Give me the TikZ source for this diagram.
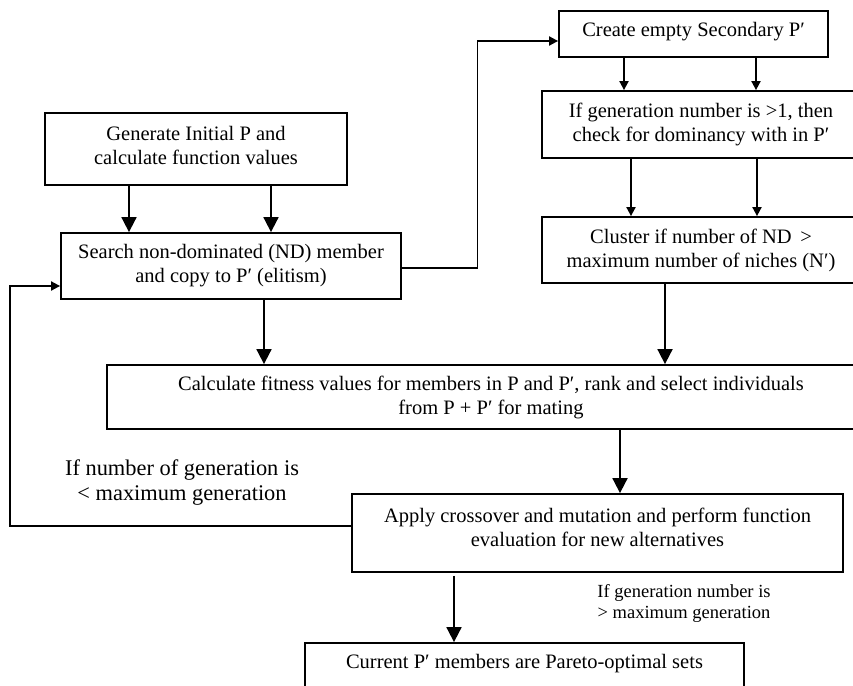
\documentclass[tikz,border=0pt]{standalone}
\usepackage{fontspec}
\setmainfont{Liberation Serif}
\usetikzlibrary{arrows.meta}
\tikzset{
  box/.style={draw, line width=1.8pt, inner sep=0pt, align=center},
  txt/.style={align=center, inner sep=0pt, font=\fontsize{20.5}{24}\selectfont},
  big/.style={-{Triangle[length=15pt,width=15pt]}, line width=1.8pt},
  small/.style={-{Triangle[length=9pt,width=9pt]}, line width=1.8pt},
}
\begin{document}
\begin{tikzpicture}[x=1pt,y=-1pt]
\useasboundingbox (0,0) rectangle (853,685);
% boxes
\node[box, minimum width=302pt, minimum height=72pt] (gen) at (196,149) {};
\node[txt] at ([yshift=4pt]gen.center) {Generate Initial P and\\calculate function values};
\node[box, minimum width=340pt, minimum height=66pt] (search) at (231,266) {};
\node[txt] at (search.center) {Search non-dominated (ND) member\\and copy to P′ (elitism)};
\node[box, minimum width=269pt, minimum height=46pt] (create) at (693.5,34) {};
\node[txt] at ([yshift=2pt]create.center) {Create empty Secondary P′};
\node[box, minimum width=318pt, minimum height=67pt] (ifgen) at (701,124.5) {};
\node[txt] at (ifgen.center) {If generation number is >1, then\\check for dominancy with in P′};
\node[box, minimum width=318pt, minimum height=66pt] (cluster) at (701,250) {};
\node[txt] at (cluster.center) {Cluster if number of ND \,>\\maximum number of niches (N′)};
\node[box, minimum width=768pt, minimum height=64pt] (calc) at (491,397) {};
\node[txt] at (calc.center) {Calculate fitness values for members in P and P′, rank and select individuals\\from P + P′ for mating};
\node[box, minimum width=491pt, minimum height=78pt] (apply) at (597.5,533) {};
\node[txt] at ([yshift=5.5pt]apply.center) {Apply crossover and mutation and perform function\\evaluation for new alternatives};
\node[box, minimum width=439pt, minimum height=44pt] (current) at (524.5,665) {};
\node[txt] at ([yshift=1pt]current.center) {Current P′ members are Pareto-optimal sets};
% labels
\node[align=center, inner sep=0pt, font=\fontsize{22.4}{25}\selectfont] (lab1) at (182,483) {If number of generation is\\< maximum generation};
\node[align=center, inner sep=0pt, font=\fontsize{18.5}{21}\selectfont] (lab2) at (684,603) {If generation number is\\> maximum generation};
% connectors
\draw[big] ([xshift=-67pt]gen.south) -- ([xshift=-67pt]gen.south |- search.north);
\draw[big] ([xshift=75pt]gen.south) -- ([xshift=75pt]gen.south |- search.north);
\draw[small] ([yshift=-2pt]search.east) -- ++(75.5,0) |- ([yshift=-7pt]create.west);
\draw[small] ([xshift=-69.5pt]create.south) -- ([xshift=-69.5pt]create.south |- ifgen.north);
\draw[small] ([xshift=62.5pt]create.south) -- ([xshift=62.5pt]create.south |- ifgen.north);
\draw[small] ([xshift=-70pt]ifgen.south) -- ([xshift=-70pt]ifgen.south |- cluster.north);
\draw[small] ([xshift=56pt]ifgen.south) -- ([xshift=56pt]ifgen.south |- cluster.north);
\draw[big] ([xshift=-36pt]cluster.south) -- ([xshift=-36pt]cluster.south |- calc.north);
\draw[big] ([xshift=33pt]search.south) -- ([xshift=33pt]search.south |- calc.north);
\draw[big] ([xshift=129pt]calc.south) -- ([xshift=129pt]calc.south |- apply.north);
\draw[small] ([yshift=7pt]apply.west) -- ++(-341,0) |- ([yshift=-20pt]search.west);
\draw[big] ([xshift=-143.5pt,yshift=-3pt]apply.south) -- ([xshift=-143.5pt]apply.south |- current.north);
\end{tikzpicture}
\end{document}
